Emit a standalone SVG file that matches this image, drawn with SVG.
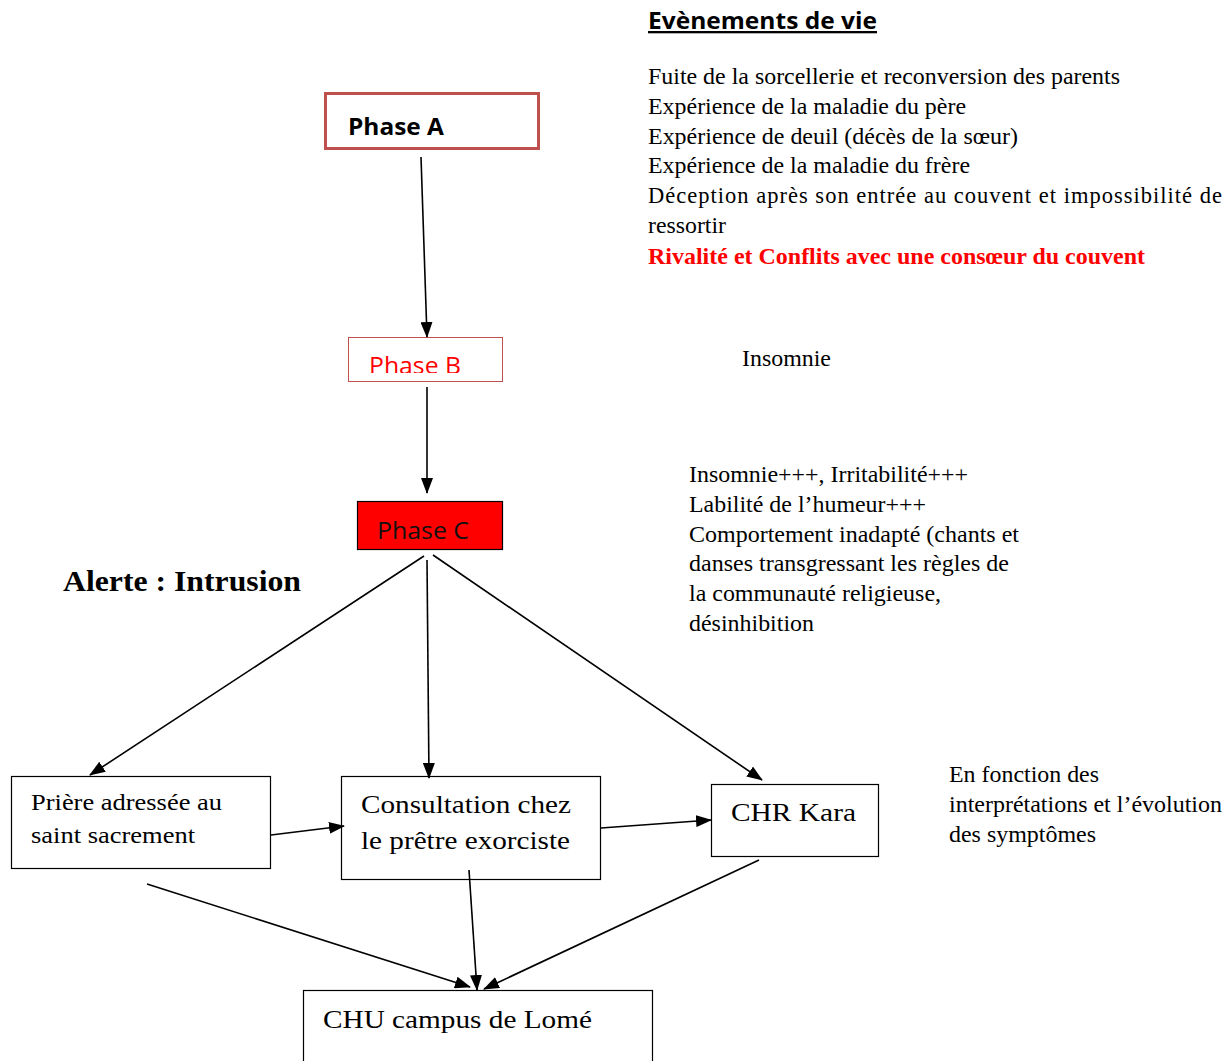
<svg xmlns="http://www.w3.org/2000/svg" width="1227" height="1061" viewBox="0 0 1227 1061">
<style>
.serif{font-family:"Liberation Serif","Times New Roman",serif;fill:#000}
.sans{font-family:"Open Sans","Noto Sans","Liberation Sans",sans-serif}
.box{fill:#fff;stroke:#000;stroke-width:1.2}
.conn line{stroke:#000;stroke-width:1.6;marker-end:url(#ah)}
.list{font-size:22.5px}
</style>
<defs>
<marker id="ah" markerUnits="userSpaceOnUse" markerWidth="16" markerHeight="12" refX="15" refY="6" orient="auto">
<path d="M0,0 L16,6 L0,12 z" fill="#000"/>
</marker>
<clipPath id="clipB"><rect x="348" y="337" width="155" height="36"/></clipPath>
</defs>
<rect width="1227" height="1061" fill="#fff"/>

<g id="phaseA">
<rect x="325.5" y="93.5" width="213" height="55" fill="#fff" stroke="#C0504D" stroke-width="3"/>
<text x="348" y="135" class="sans" font-size="23" font-weight="bold" fill="#000" textLength="96" lengthAdjust="spacingAndGlyphs">Phase A</text>
</g>

<g id="phaseB">
<rect x="348.5" y="337.5" width="154" height="44" fill="#fff" stroke="#C0504D" stroke-width="1"/>
<text x="369" y="374" class="sans" font-size="23" fill="#FF0000" clip-path="url(#clipB)" textLength="92" lengthAdjust="spacingAndGlyphs">Phase B</text>
</g>

<g id="phaseC">
<rect x="357.5" y="501.5" width="145" height="48" fill="#FF0000" stroke="#000" stroke-width="1.2"/>
<text x="377" y="539" class="sans" font-size="23" fill="#111" textLength="92" lengthAdjust="spacingAndGlyphs">Phase C</text>
</g>

<g id="alerte">
<text x="63" y="591" class="serif" font-size="30" font-weight="bold" textLength="238" lengthAdjust="spacingAndGlyphs">Alerte : Intrusion</text>
</g>

<g id="evenements">
<text x="648" y="29" class="sans" font-size="23" font-weight="bold" fill="#000" text-decoration="underline" textLength="229" lengthAdjust="spacingAndGlyphs">Evènements de vie</text>
<text class="serif list" x="648" y="84" textLength="472" lengthAdjust="spacingAndGlyphs">Fuite de la sorcellerie et reconversion des parents</text>
<text class="serif list" x="648" y="114" textLength="318" lengthAdjust="spacingAndGlyphs">Expérience de la maladie du père</text>
<text class="serif list" x="648" y="144" textLength="370" lengthAdjust="spacingAndGlyphs">Expérience de deuil (décès de la sœur)</text>
<text class="serif list" x="648" y="173" textLength="322" lengthAdjust="spacingAndGlyphs">Expérience de la maladie du frère</text>
<text class="serif list" x="648" y="203" textLength="574" lengthAdjust="spacing">Déception après son entrée au couvent et impossibilité de</text>
<text class="serif list" x="648" y="233" textLength="78" lengthAdjust="spacingAndGlyphs">ressortir</text>
<text class="serif list" x="648" y="264" font-weight="bold" style="fill:#FF0000" textLength="497" lengthAdjust="spacingAndGlyphs">Rivalité et Conflits avec une consœur du couvent</text>
</g>

<g id="insomnie">
<text class="serif list" x="742" y="366" textLength="89" lengthAdjust="spacingAndGlyphs">Insomnie</text>
</g>

<g id="symptomes">
<text class="serif list" x="689" y="482" textLength="279" lengthAdjust="spacingAndGlyphs">Insomnie+++, Irritabilité+++</text>
<text class="serif list" x="689" y="512" textLength="237" lengthAdjust="spacingAndGlyphs">Labilité de l’humeur+++</text>
<text class="serif list" x="689" y="542" textLength="330" lengthAdjust="spacingAndGlyphs">Comportement inadapté (chants et</text>
<text class="serif list" x="689" y="571" textLength="320" lengthAdjust="spacingAndGlyphs">danses transgressant les règles de</text>
<text class="serif list" x="689" y="601" textLength="252" lengthAdjust="spacingAndGlyphs">la communauté religieuse,</text>
<text class="serif list" x="689" y="631" textLength="125" lengthAdjust="spacingAndGlyphs">désinhibition</text>
</g>

<g id="enfonction">
<text class="serif list" x="949" y="782" textLength="150" lengthAdjust="spacingAndGlyphs">En fonction des</text>
<text class="serif list" x="949" y="812" textLength="273" lengthAdjust="spacingAndGlyphs">interprétations et l’évolution</text>
<text class="serif list" x="949" y="842" textLength="147" lengthAdjust="spacingAndGlyphs">des symptômes</text>
</g>

<g id="priere">
<rect class="box" x="11.5" y="776.5" width="259" height="92"/>
<text class="serif" x="31" y="810" font-size="23" textLength="191" lengthAdjust="spacingAndGlyphs">Prière adressée au</text>
<text class="serif" x="31" y="843" font-size="23" textLength="164" lengthAdjust="spacingAndGlyphs">saint sacrement</text>
</g>

<g id="consultation">
<rect class="box" x="341.5" y="776.5" width="259" height="103"/>
<text class="serif" x="361" y="813" font-size="26" textLength="210" lengthAdjust="spacingAndGlyphs">Consultation chez</text>
<text class="serif" x="361" y="849" font-size="26" textLength="209" lengthAdjust="spacingAndGlyphs">le prêtre exorciste</text>
</g>

<g id="chr">
<rect class="box" x="711.5" y="784.5" width="167" height="72"/>
<text class="serif" x="731" y="821" font-size="26" textLength="125" lengthAdjust="spacingAndGlyphs">CHR Kara</text>
</g>

<g id="chu">
<rect class="box" x="303.5" y="990.5" width="349" height="80"/>
<text class="serif" x="323" y="1028" font-size="26" textLength="269" lengthAdjust="spacingAndGlyphs">CHU campus de Lomé</text>
</g>

<g id="connectors" class="conn">
<line x1="421" y1="157" x2="427" y2="337"/>
<line x1="427" y1="387" x2="427" y2="493"/>
<line x1="424" y1="556" x2="90" y2="775"/>
<line x1="427" y1="560" x2="429" y2="778"/>
<line x1="433" y1="555" x2="762" y2="780"/>
<line x1="271" y1="835" x2="344" y2="826"/>
<line x1="601" y1="828" x2="711" y2="820"/>
<line x1="147" y1="884" x2="470" y2="987"/>
<line x1="469" y1="870" x2="477" y2="990"/>
<line x1="759" y1="860" x2="484" y2="989"/>
</g>
</svg>
